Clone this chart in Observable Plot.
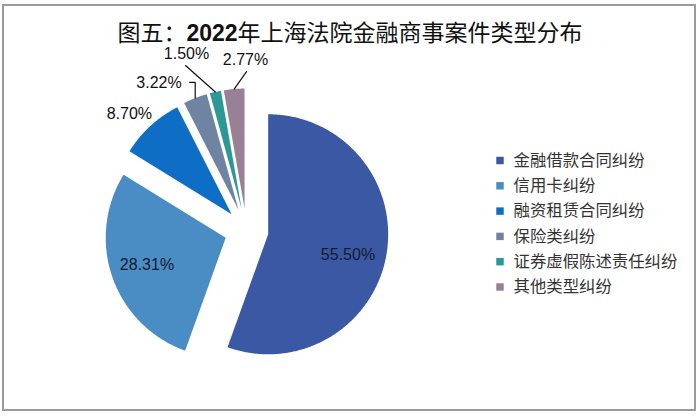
<!DOCTYPE html>
<html><head><meta charset="utf-8">
<script src="https://cdn.jsdelivr.net/npm/d3@7"></script>
<script src="https://cdn.jsdelivr.net/npm/@observablehq/plot@0.6"></script>
<style>
body{margin:0;background:#fff;}
#wrap{position:relative;width:700px;height:416px;overflow:hidden;background:#fff;}
#wrap svg{position:absolute;left:0;top:0;}
#frame{position:absolute;left:2px;top:4px;width:690px;height:403px;border:2px solid #9b9b9b;pointer-events:none;}
#title{position:absolute;left:0;top:19px;width:700px;text-align:center;font-size:23px;line-height:24px;color:#111;font-family:"Noto Sans CJK SC",sans-serif;white-space:nowrap;}
#title b{font-family:"Liberation Sans",Arial,sans-serif;font-weight:bold;}
</style></head><body>
<div id="wrap"><div id="title">图五：<b>2022</b>年上海法院金融商事案件类型分布</div><div id="frame"></div></div>
<script>
// ---- data ----
const categories = ["金融借款合同纠纷","信用卡纠纷","融资租赁合同纠纷","保险类纠纷","证券虚假陈述责任纠纷","其他类型纠纷"];
const shares = [55.50, 28.31, 8.70, 3.22, 1.50, 2.77];
const colors = ["#3b58a4","#4a8cc4","#0e6dc4","#6f84a3","#2d9898","#988196"];

// ---- layout ----
const W = 700, H = 416, cx = 246, cy = 230, R = 120, explode = 22 / R;
// label placement per slice (polar, relative to exploded slice vertex)
const labelLayout = [
  {r: 0.686, shift: 4.3, leader: "none", fill: "#151a30"},
  {r: 0.695, shift: 0, leader: "none", fill: "#151a30"},
  {r: 1.196, shift: -2.8, leader: "none", fill: "#111"},
  {r: 1.138, shift: 0.2, leader: "elbow", fill: "#111"},
  {r: 1.284, shift: -8.7, leader: "straight", fill: "#111", dx: 1, dy: -12},
  {r: 1.142, shift: 5.8, leader: "straight", fill: "#111", dx: -1, dy: -12}
];
const toRad = Math.PI / 180;

const arcs = d3.pie().sort(null).value(d => d)(shares);
const slicePts = [];
const textRows = [];
const leaderRows = [];
arcs.forEach((a, i) => {
  const cat = categories[i];
  const mid = (a.startAngle + a.endAngle) / 2;
  const ox = explode * Math.sin(mid), oy = -explode * Math.cos(mid);
  slicePts.push({cat, x: ox, y: oy});
  const n = Math.max(2, Math.ceil((a.endAngle - a.startAngle) / (0.5 * toRad)));
  for (let k = 0; k <= n; k++) {
    const t = a.startAngle + (a.endAngle - a.startAngle) * k / n;
    slicePts.push({cat, x: ox + Math.sin(t), y: oy - Math.cos(t)});
  }
  const L = labelLayout[i];
  const la = mid + L.shift * toRad;
  const lx = ox + L.r * Math.sin(la), ly = oy - L.r * Math.cos(la);
  const mx = ox + Math.sin(mid), my = oy - Math.cos(mid);
  const text = shares[i].toFixed(2) + "%";
  if (L.leader === "straight") {
    leaderRows.push({id: i, x: mx, y: my}, {id: i, x: lx, y: ly});
    textRows.push({text, x: lx + (L.dx||0)/R, y: ly + (L.dy||0)/R, anchor: "middle", fill: L.fill});
  } else if (L.leader === "elbow") {
    leaderRows.push({id: i, x: mx, y: my}, {id: i, x: mx, y: ly}, {id: i, x: lx, y: ly});
    textRows.push({text, x: lx - 8/R, y: ly, anchor: "end", fill: L.fill});
  } else {
    textRows.push({text, x: lx, y: ly, anchor: "middle", fill: L.fill});
  }
});

// legend rows
const legX = (499.5 - cx) / R, legTextX = (513 - cx) / R;
const legY = i => (160 + i * 25.3 - cy) / R;

const chart = Plot.plot({
  width: W, height: H, margin: 0,
  x: {domain: [-cx / R, (W - cx) / R], range: [0, W], axis: null},
  y: {domain: [-cy / R, (H - cy) / R], range: [0, H], axis: null},
  color: {domain: categories, range: colors},
  style: {background: "transparent", fontFamily: "'Liberation Sans', Arial, 'Noto Sans CJK SC', sans-serif"},
  marks: [
    Plot.line(slicePts, {x: "x", y: "y", z: "cat", fill: "cat", stroke: "none", curve: "linear-closed"}),
    Plot.line(leaderRows, {x: "x", y: "y", z: "id", stroke: "#111", strokeWidth: 1.2}),
    Plot.text(textRows.filter(d => d.anchor === "middle"), {x: "x", y: "y", text: "text", fill: d => d.fill, fontSize: 16, textAnchor: "middle"}),
    Plot.text(textRows.filter(d => d.anchor === "end"), {x: "x", y: "y", text: "text", fill: d => d.fill, fontSize: 16, textAnchor: "end"}),
    Plot.dot(categories, {x: () => legX, y: (d, i) => legY(i), fill: d => d, symbol: "square", r: 4.2}),
    Plot.text(categories, {x: () => legTextX, y: (d, i) => legY(i), text: d => d, textAnchor: "start", fontSize: 16.4, fill: "#333", fontFamily: "'Noto Sans CJK SC', sans-serif"})
  ]
});
document.getElementById("wrap").prepend(chart);
</script>
</body></html>
